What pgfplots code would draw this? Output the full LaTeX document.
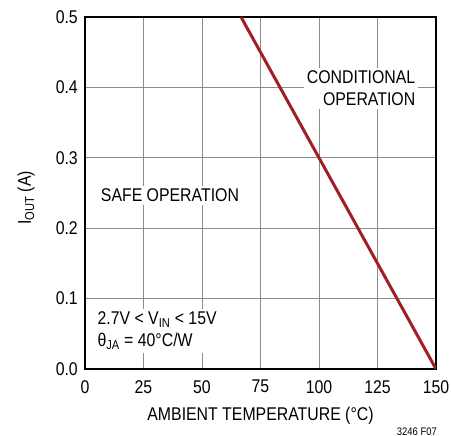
\documentclass[border=0pt]{standalone}
\usepackage{fontspec}
\setmainfont[FakeStretch=0.86]{Liberation Sans}
\usepackage{pgfplots}
\pgfplotsset{compat=1.18}
\definecolor{lred}{HTML}{A01E24}
\begin{document}
\fontsize{18.5}{22}\selectfont
\begin{tikzpicture}
\begin{axis}[
  scale only axis, width=351bp, height=352bp,
  anchor=south west, at={(0,0)},
  xmin=0, xmax=150, ymin=0, ymax=0.5,
  xtick={0,25,50,75,100,125,150},
  xticklabels={0,25,50,75,100,125,150},
  ytick={0,0.1,0.2,0.3,0.4,0.5},
  yticklabels={0.0,0.1,0.2,0.3,0.4,0.5},
  grid=major,
  grid style={color=black!45, line width=1bp},
  axis line style={line width=1.6bp},
  major tick length=0pt,
  tick label style={font=\fontsize{18.5}{22}\selectfont, inner sep=0pt},
  xticklabel style={anchor=north, yshift=-11bp},
  yticklabel style={anchor=east, xshift=-7bp},
  xlabel={AMBIENT TEMPERATURE (°C)},
  xlabel style={at={(axis description cs:0.5,0)}, anchor=base, yshift=-51bp, inner sep=0pt},
  clip=true,
]
\node[fill=white, inner sep=3bp, anchor=center] at (axis cs:36.3,0.247) {SAFE OPERATION};
\node[fill=white, inner sep=3bp, anchor=east, align=right] at (axis cs:142.5,0.399) {CONDITIONAL\\OPERATION};
\node[fill=white, inner sep=3bp, anchor=west, align=left] at (axis cs:4.0,0.054) {2.7V < V\textsubscript{IN} < 15V\\θ\textsubscript{JA} = 40°C/W};
\addplot[color=lred, line width=3bp] coordinates {(66.667,0.5) (150,0)};
\end{axis}
\node[rotate=90, anchor=base, inner sep=0pt] at (-54bp,171bp) {I\textsubscript{OUT} (A)};
\node[anchor=base east, inner sep=0pt, font=\fontsize{11}{12}\selectfont] at (352bp,-66bp) {3246 F07};
\pgfresetboundingbox
\path (-85bp,-67bp) rectangle (366bp,369bp);
\end{tikzpicture}
\end{document}
